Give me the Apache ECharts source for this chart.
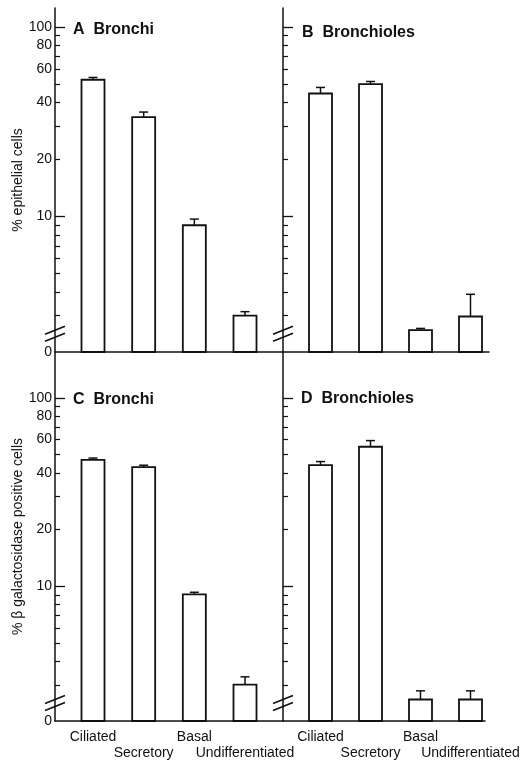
<!DOCTYPE html>
<html><head><meta charset="utf-8">
<script src="https://cdn.jsdelivr.net/npm/echarts@6/dist/echarts.min.js"></script>
<style>html,body{margin:0;padding:0;background:#fff}#c{width:525px;height:760px}</style>
</head><body><div id="c"></div>
<script>
// ---------- data ----------
const categories = ['Ciliated', 'Secretory', 'Basal', 'Undifferentiated'];
const panelTitles = ['A  Bronchi', 'B  Bronchioles', 'C  Bronchi', 'D  Bronchioles'];
const yNames = ['% epithelial cells', '% \u03b2 galactosidase positive cells'];
// bar heights (%) and top of error bar (%)
const bronchiEpithelial        = [52.7, 33.5, 9.0, 3.0];
const bronchiEpithelialErr     = [54.2, 35.6, 9.7, 3.15];
const bronchiolesEpithelial    = [44.6, 50.0, 2.52, 2.97];
const bronchiolesEpithelialErr = [48.0, 51.6, 2.57, 3.89];
const bronchiGal               = [46.9, 42.9, 9.07, 3.01];
const bronchiGalErr            = [47.9, 43.9, 9.3, 3.31];
const bronchiolesGal           = [44.0, 55.0, 2.51, 2.51];
const bronchiolesGalErr        = [45.9, 59.3, 2.79, 2.79];
// axis ticks (% values, log scale)
const majorTicks = [10, 100];
const minorTicks = [3, 4, 5, 6, 7, 8, 9, 20, 30, 40, 50, 60, 70, 80, 90];
const tickLabels = [10, 20, 40, 60, 80, 100];
const zeroLabel = '0';

// ---------- build ----------
const L = Math.log10;
const font = 'Liberation Sans, Arial, Helvetica, sans-serif';
const ink = '#111';
const yMinPct = 1.93;
const yMinLog = L(yMinPct);
const breakLog = (yMinLog + L(3)) / 2;

const panels = [
  {vals: bronchiEpithelial, errs: bronchiEpithelialErr},
  {vals: bronchiolesEpithelial, errs: bronchiolesEpithelialErr},
  {vals: bronchiGal, errs: bronchiGalErr},
  {vals: bronchiolesGal, errs: bronchiolesGalErr}
];
const layout = [
  {left: 55, top: 8, width: 228, height: 344, xMax: 3.75, yMax: 126, showLabels: true, bottom: false, title: {left: 73, top: 22}},
  {left: 283, top: 8, width: 206, height: 344, xMax: 3.37, yMax: 126, showLabels: false, bottom: false, title: {left: 302, top: 25}},
  {left: 55, top: 352, width: 228, height: 369, xMax: 3.75, yMax: 175, showLabels: true, bottom: true, title: {left: 73, top: 392}},
  {left: 283, top: 352, width: 202, height: 369, xMax: 3.29, yMax: 175, showLabels: false, bottom: true, title: {left: 301, top: 391}}
];
const xMin = -0.75;
const evenIdx = categories.map((c, i) => i).filter(i => i % 2 === 0);
const oddIdx = categories.map((c, i) => i).filter(i => i % 2 === 1);

const grid = [], xAxis = [], yAxis = [], series = [], title = [];
const catLabel = (values, margin) => ({
  show: true, customValues: values, margin: margin,
  showMinLabel: true, showMaxLabel: true, hideOverlap: false,
  fontFamily: font, fontSize: 14, color: ink,
  formatter: v => categories[Math.round(v)]
});
layout.forEach((g, k) => {
  grid.push({left: g.left, top: g.top, width: g.width, height: g.height, containLabel: false});
  title.push({text: panelTitles[k], left: g.title.left, top: g.title.top, padding: 0,
    textStyle: {fontFamily: font, fontSize: 16, fontWeight: 'bold', color: ink}});
  xAxis.push({
    type: 'value', gridIndex: k, min: xMin, max: g.xMax, position: 'bottom',
    axisLine: {show: true, onZero: false, lineStyle: {color: ink, width: 1.5}},
    axisTick: {show: false}, splitLine: {show: false},
    axisLabel: g.bottom ? catLabel(evenIdx, 9) : {show: false}
  });
});
layout.forEach((g, k) => {
  if (!g.bottom) return;
  xAxis.push({
    type: 'value', gridIndex: k, min: xMin, max: g.xMax, position: 'bottom',
    axisLine: {show: false, onZero: false},
    axisTick: {show: false}, splitLine: {show: false},
    axisLabel: catLabel(oddIdx, 25)
  });
});
layout.forEach((g, k) => {
  const yBase = {
    type: 'value', gridIndex: k, min: yMinLog, max: L(g.yMax), position: 'left',
    splitLine: {show: false}
  };
  yAxis.push(Object.assign({}, yBase, {
    axisLine: {show: true, onZero: false, lineStyle: {color: ink, width: 1.5}},
    axisTick: {show: true, inside: true, length: 5, customValues: minorTicks.map(L), lineStyle: {color: ink, width: 1.2}},
    axisLabel: {
      show: g.showLabels, customValues: [yMinLog].concat(tickLabels.map(L)), margin: 3,
      showMinLabel: true, showMaxLabel: true,
      fontFamily: font, fontSize: 14, color: ink,
      formatter: v => (v < 0.35 ? zeroLabel : String(Math.round(Math.pow(10, v))))
    },
    name: g.showLabels ? yNames[k < 2 ? 0 : 1] : '',
    nameLocation: 'middle', nameGap: 30, nameRotate: 90,
    nameTextStyle: {fontFamily: font, fontSize: 14, color: ink}
  }));
  yAxis.push(Object.assign({}, yBase, {
    axisLine: {show: false, onZero: false},
    axisTick: {show: true, inside: true, length: 10, customValues: majorTicks.map(L), lineStyle: {color: ink, width: 1.3}},
    axisLabel: {show: false}
  }));
  const p = panels[k];
  series.push({
    type: 'custom', xAxisIndex: k, yAxisIndex: 2 * k,
    data: p.vals.map((v, i) => [i, L(v), L(p.errs[i])]),
    renderItem: (params, api) => {
      const x = api.value(0);
      const top = api.coord([x, api.value(1)]);
      const err = api.coord([x, api.value(2)]);
      const base = api.coord([x, yMinLog]);
      const w = 23, cap = 4.5;
      return {type: 'group', children: [
        {type: 'rect', shape: {x: top[0] - w / 2, y: top[1], width: w, height: base[1] - top[1]},
          style: {fill: '#fff', stroke: ink, lineWidth: 1.8}},
        {type: 'line', shape: {x1: top[0], y1: top[1], x2: top[0], y2: err[1]}, style: {stroke: ink, lineWidth: 1.5}},
        {type: 'line', shape: {x1: top[0] - cap, y1: err[1], x2: top[0] + cap, y2: err[1]}, style: {stroke: ink, lineWidth: 1.5}}
      ]};
    }
  });
  series.push({
    type: 'custom', xAxisIndex: k, yAxisIndex: 2 * k, silent: true,
    data: [[xMin, breakLog]],
    renderItem: (params, api) => {
      const c = api.coord([api.value(0), api.value(1)]);
      const dx = 10, dy = 4, gap = 3.5;
      return {type: 'group', children: [-gap, gap].map(o => ({
        type: 'line',
        shape: {x1: c[0] - dx, y1: c[1] + o + dy, x2: c[0] + dx, y2: c[1] + o - dy},
        style: {stroke: ink, lineWidth: 1.6}
      }))};
    }
  });
});

const chart = echarts.init(document.getElementById('c'), null, {renderer: 'canvas'});
chart.setOption({backgroundColor: '#fff', animation: false, title, grid, xAxis, yAxis, series});
</script>
</body></html>
